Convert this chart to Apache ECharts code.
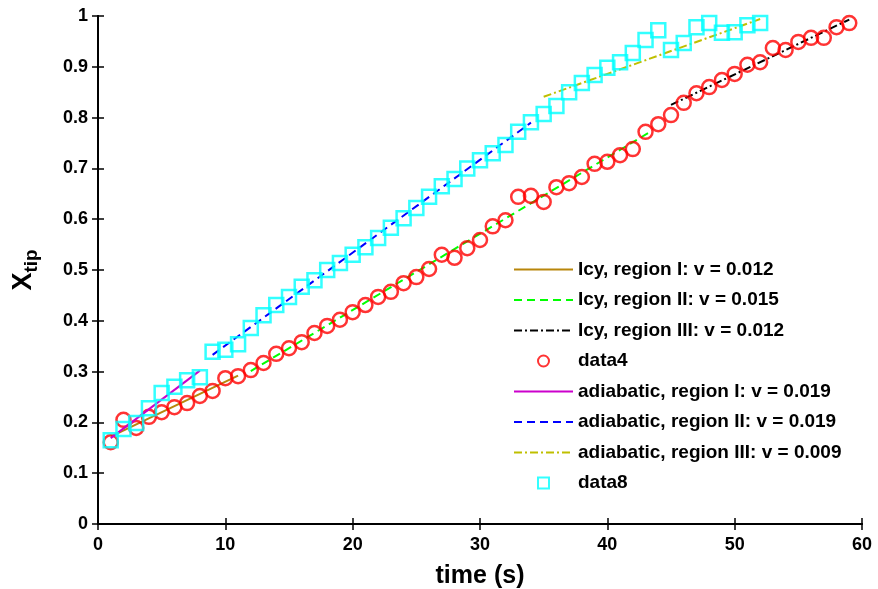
<!DOCTYPE html>
<html>
<head>
<meta charset="utf-8">
<script src="https://cdn.jsdelivr.net/npm/echarts@6/dist/echarts.min.js"></script>
<style>
  html, body { margin: 0; padding: 0; background: #fff; }
  #chart { width: 878px; height: 589px; }
</style>
</head>
<body>
<div id="chart"></div>
<script>
// measured tip position, icy run (red circles)
const icyTime = [1,2,3,4,5,6,7,8,9,10,11,12,13,14,15,16,17,18,19,20,21,22,23,24,25,26,27,28,29,30,
  31,32,33,34,35,36,37,38,39,40,41,42,43,44,45,46,47,48,49,50,51,52,53,54,55,56,57,58,59];
const icyTip = [0.161,0.205,0.189,0.211,0.220,0.230,0.238,0.252,0.262,0.287,0.291,0.303,0.317,0.335,0.346,
  0.358,0.376,0.390,0.402,0.417,0.431,0.447,0.457,0.474,0.486,0.502,0.530,0.524,0.543,0.559,
  0.586,0.598,0.644,0.646,0.634,0.663,0.671,0.683,0.709,0.713,0.726,0.738,0.772,0.787,0.805,
  0.829,0.848,0.860,0.874,0.886,0.904,0.909,0.937,0.933,0.949,0.957,0.957,0.978,0.986];

// measured tip position, adiabatic run (cyan squares)
const adiTime = [1,2,3,4,5,6,7,8,9,10,11,12,13,14,15,16,17,18,19,20,21,22,23,24,25,26,
  27,28,29,30,31,32,33,34,35,36,37,38,39,40,41,42,43,44,45,46,47,48,49,50,51,52];
const adiTip = [0.165,0.187,0.199,0.228,0.258,0.270,0.283,0.289,0.339,0.343,0.354,0.386,0.411,0.431,0.447,
  0.467,0.480,0.500,0.514,0.530,0.545,0.563,0.583,0.602,0.622,0.644,0.665,0.679,0.700,0.716,
  0.730,0.746,0.772,0.791,0.807,0.823,0.850,0.868,0.884,0.898,0.909,0.927,0.953,0.972,0.933,
  0.947,0.978,0.986,0.967,0.968,0.982,0.986];

// linear fits: [start, end] pairs
const icyFit1 = [[1, 0.172], [11, 0.292]];
const icyFit2 = [[12, 0.301], [43.5, 0.774]];
const icyFit3 = [[45, 0.825], [59, 0.993]];
const adiFit1 = [[1, 0.169], [8, 0.302]];
const adiFit2 = [[9, 0.333], [34, 0.79]];
const adiFit3 = [[35, 0.841], [52, 0.994]];

const legendNames = [
  'Icy, region I: v = 0.012',
  'Icy, region II: v = 0.015',
  'Icy, region III: v = 0.012',
  'data4',
  'adiabatic, region I: v = 0.019',
  'adiabatic, region II: v = 0.019',
  'adiabatic, region III: v = 0.009',
  'data8'
];
const markerNames = ['data4', 'data8'];

function zip(xs, ys) {
  return xs.map((x, i) => [x, ys[i]]);
}

function fitLine(name, data, color, type, z) {
  return {
    name: name,
    type: 'line',
    data: data,
    symbol: 'none',
    z: z,
    lineStyle: { color: color, width: 2, type: type },
    itemStyle: { color: color },
    animation: false
  };
}

function markers(name, data, symbol, color, z) {
  return {
    name: name,
    type: 'scatter',
    data: data,
    symbol: symbol,
    symbolSize: 14,
    z: z,
    itemStyle: { color: 'rgba(0,0,0,0)', borderColor: color, borderWidth: 2.5 },
    animation: false
  };
}

// legend: plain line for fits, small shape for the marker series
const legendData = legendNames.map(n => {
  if (n === 'data8') return { name: n, icon: 'path://M0,0H10V10H0Z' };
  if (n === 'data4') return { name: n };
  return { name: n, itemStyle: { opacity: 0 } };
});

const chart = echarts.init(document.getElementById('chart'));
const tickFont = { fontFamily: 'Liberation Sans', fontWeight: 'bold', fontSize: 18, color: '#000' };
const axisLine = { show: true, lineStyle: { color: '#000', width: 2 } };
const axisTick = { show: true, inside: true, length: 6, lineStyle: { color: '#000', width: 1.5 } };

chart.setOption({
  backgroundColor: '#fff',
  animation: false,
  grid: { left: 98, right: 16, top: 16, bottom: 65, containLabel: false, outerBoundsMode: 'none' },
  legend: {
    orient: 'vertical',
    left: 508,
    top: 255,
    itemWidth: 59,
    itemHeight: 11,
    itemGap: 11.5,
    data: legendData,
    textStyle: { fontFamily: 'Liberation Sans', fontWeight: 'bold', fontSize: 19, color: '#000' }
  },
  xAxis: [{
    type: 'value', min: 0, max: 60, interval: 10,
    name: 'time (s)', nameLocation: 'middle', nameGap: 40,
    nameTextStyle: { fontFamily: 'Liberation Sans', fontWeight: 'bold', fontSize: 25, color: '#000' },
    axisLine: axisLine, axisTick: axisTick,
    axisLabel: Object.assign({ margin: 12 }, tickFont),
    splitLine: { show: false }
  }, {
    type: 'value', min: 0, max: 60, interval: 10, position: 'top',
    axisLine: axisLine, axisTick: axisTick, axisLabel: { show: false }, splitLine: { show: false }
  }],
  yAxis: [{
    type: 'value', min: 0, max: 1, interval: 0.1,
    name: '{x|X}{s|tip}', nameLocation: 'middle', nameGap: 57,
    nameTextStyle: {
      rich: {
        x: { fontFamily: 'Liberation Sans', fontWeight: 'bold', fontSize: 27, color: '#000' },
        s: { fontFamily: 'Liberation Sans', fontWeight: 'bold', fontSize: 19, color: '#000', padding: [16, 0, 0, 0] }
      }
    },
    axisLine: axisLine, axisTick: axisTick,
    axisLabel: Object.assign({ margin: 10, formatter: v => (v === 0 || v === 1) ? String(v) : v.toFixed(1) }, tickFont),
    splitLine: { show: false }
  }, {
    type: 'value', min: 0, max: 1, interval: 0.1, position: 'right',
    axisLine: axisLine, axisTick: axisTick, axisLabel: { show: false }, splitLine: { show: false }
  }],
  series: [
    fitLine(legendNames[0], icyFit1, '#b8860b', 'solid', 2),
    fitLine(legendNames[1], icyFit2, '#00ff00', [8, 5], 2),
    fitLine(legendNames[2], icyFit3, '#000000', [8, 3, 2, 3], 2),
    markers(markerNames[0], zip(icyTime, icyTip), 'circle', '#ff0000', 3),
    fitLine(legendNames[4], adiFit1, '#cc00cc', 'solid', 4),
    fitLine(legendNames[5], adiFit2, '#0000ff', [8, 5], 4),
    fitLine(legendNames[6], adiFit3, '#bfbf00', [8, 3, 2, 3], 4),
    markers(markerNames[1], zip(adiTime, adiTip), 'rect', '#00ffff', 5)
  ]
});
</script>
</body>
</html>
